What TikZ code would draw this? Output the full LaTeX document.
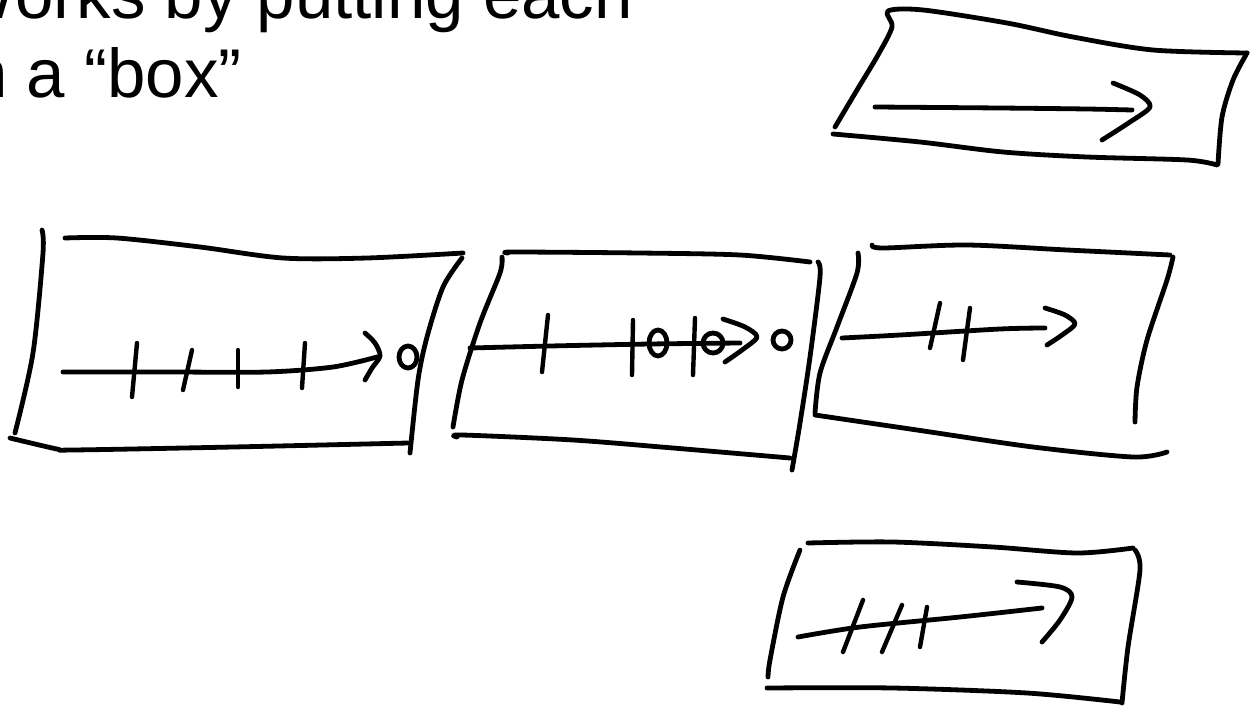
\documentclass[tikz,border=0pt]{standalone}
\usepackage{fontspec}
\setmainfont{Liberation Sans}
\usepackage{tikz}

\begin{document}
\begin{tikzpicture}[x=1pt,y=-1pt,
    pen/.style={draw=black,line width=4.8pt,line cap=round,line join=round},
    tick/.style={pen,line width=4.4pt}]
  \useasboundingbox (0,0) rectangle (1250,715);
  \clip (0,0) rectangle (1250,715);

  \begin{scope}[every node/.style={inner sep=0pt,font=\fontsize{69}{79}\selectfont}]
    \node[anchor=base east] (line1) at (633,18) {Works by putting each};
    \node[anchor=base east] (line2) at (242,97) {in a “box”};
  \end{scope}

  % top right box
  \draw[pen] plot[smooth] coordinates {(835,127) (857,90) (878,55) (892,27) (888,11) (923,10) (1007,23) (1073,37) (1153,50) (1247,53)};
  \draw[pen] plot[smooth] coordinates {(1247,53) (1233,80) (1222,117) (1218,164)};
  \draw[pen] plot[smooth] coordinates {(833,134) (920,142) (1003,152) (1087,157) (1187,160) (1217,165)};
  \draw[pen] plot[smooth] coordinates {(875,107) (1000,108) (1087,109) (1132,110)};
  \draw[pen] plot[smooth] coordinates {(1113,83) (1140,95) (1150,107) (1130,122) (1102,140)};

  % left box
  \draw[pen] plot[smooth] coordinates {(42,230) (43,253) (33,353) (15,433)};
  \draw[pen] plot[smooth] coordinates {(65,238) (117,238) (200,247) (283,258) (367,258) (463,253)};
  \draw[pen] plot[smooth] coordinates {(462,258) (443,287) (427,337) (418,380) (410,453)};
  \draw[pen] plot[smooth] coordinates {(10,438) (57,449) (73,450) (233,447) (408,443)};
  \draw[pen] plot[smooth] coordinates {(63,372) (170,372) (267,372) (333,367) (377,357)};
  \draw[pen] plot[smooth] coordinates {(365,333) (375,343) (380,356) (372,368) (365,380)};
  \draw[pen] (408,357) ellipse[x radius=9,y radius=11];
  \draw[tick] (137,343) -- (132,397);
  \draw[tick] (192,350) -- (183,390);
  \draw[tick] (238,350) -- (238,387);
  \draw[tick] (305,343) -- (302,388);

  % middle box
  \draw[pen] plot[smooth] coordinates {(502,257) (500,273) (480,323) (462,380) (453,427)};
  \draw[pen] plot[smooth] coordinates {(508,253) (515,252) (640,253) (740,255) (810,262)};
  \draw[pen] plot[smooth] coordinates {(818,262) (820,277) (810,357) (800,423) (792,470)};
  \draw[pen] plot[smooth] coordinates {(457,437) (462,435) (573,440) (673,448) (790,458)};
  \draw[pen] plot[smooth] coordinates {(470,348) (550,346) (650,344) (740,343)};
  \draw[pen] plot[smooth] coordinates {(723,319) (745,327) (757,337) (742,350) (725,362)};
  \draw[pen] (782,340) ellipse[x radius=9,y radius=9];
  \draw[pen] (658,343) ellipse[x radius=9,y radius=13];
  \draw[pen] (713,343) ellipse[x radius=10,y radius=10];
  \draw[tick] (548,315) -- (542,372);
  \draw[tick] (633,320) -- (632,375);
  \draw[tick] (695,318) -- (693,375);

  % right box
  \draw[pen] plot[smooth] coordinates {(858,253) (857,273) (837,327) (820,373) (815,413)};
  \draw[pen] plot[smooth] coordinates {(872,245) (883,248) (967,245) (1067,250) (1170,255)};
  \draw[pen] plot[smooth] coordinates {(1173,257) (1167,280) (1147,340) (1137,387) (1135,422)};
  \draw[pen] plot[smooth] coordinates {(815,415) (917,430) (1033,447) (1133,457) (1167,452)};
  \draw[pen] plot[smooth] coordinates {(842,338) (900,335) (1000,329) (1045,328)};
  \draw[pen] plot[smooth] coordinates {(1045,308) (1065,315) (1075,324) (1062,335) (1047,345)};
  \draw[tick] (940,303) -- (930,348);
  \draw[tick] (970,308) -- (963,360);

  % bottom box
  \draw[pen] plot[smooth] coordinates {(808,543) (893,542) (993,547) (1077,553) (1133,548)};
  \draw[pen] plot[smooth] coordinates {(800,550) (783,597) (770,660) (768,677)};
  \draw[pen] plot[smooth] coordinates {(1135,550) (1140,570) (1128,647) (1122,703)};
  \draw[pen] plot[smooth] coordinates {(767,688) (893,688) (1027,693) (1120,702)};
  \draw[pen] plot[smooth] coordinates {(798,637) (860,627) (960,617) (1042,608)};
  \draw[pen] plot[smooth] coordinates {(1017,582) (1060,587) (1072,597) (1060,620) (1042,642)};
  \draw[tick] (863,600) -- (843,652);
  \draw[tick] (902,605) -- (882,652);
  \draw[tick] (927,607) -- (920,647);
\end{tikzpicture}
\end{document}
